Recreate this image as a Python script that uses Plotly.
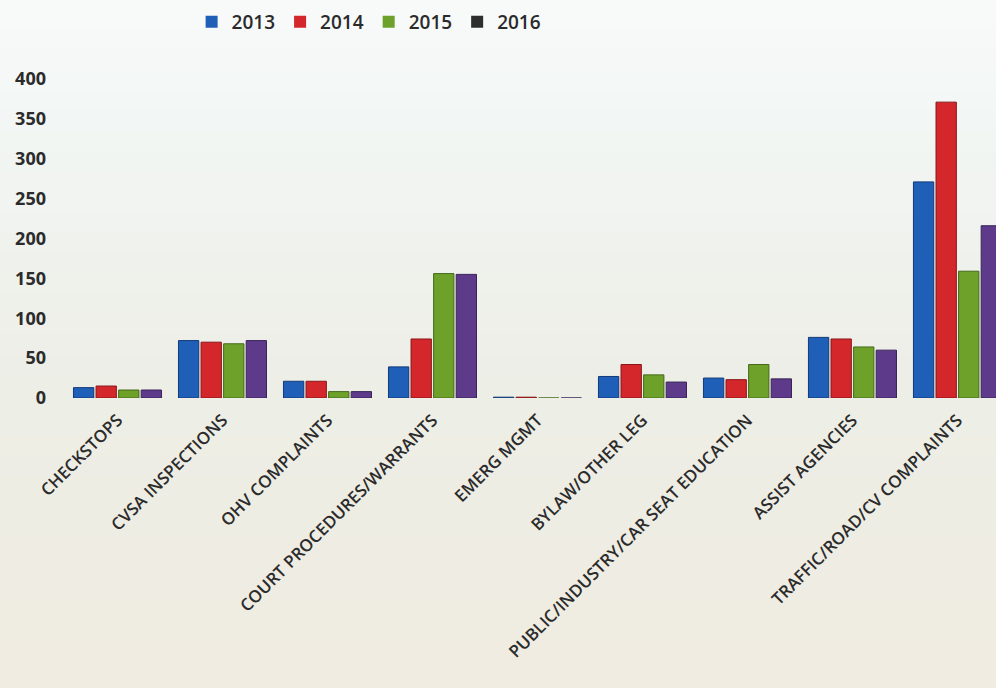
import plotly.graph_objects as go

categories = ["CHECKSTOPS", "CVSA INSPECTIONS", "OHV COMPLAINTS", "COURT PROCEDURES/WARRANTS",
              "EMERG MGMT", "BYLAW/OTHER LEG", "PUBLIC/INDUSTRY/CAR SEAT EDUCATION",
              "ASSIST AGENCIES", "TRAFFIC/ROAD/CV COMPLAINTS"]
years = ["2013", "2014", "2015", "2016"]
v2013 = [13, 72, 21, 39, 1, 27, 25, 76, 271]
v2014 = [15, 70, 21, 74, 1, 42, 23, 74, 371]
v2015 = [10, 68, 8, 156, 0, 29, 42, 64, 159]
v2016 = [10, 72, 8, 155, 0, 20, 24, 60, 216]
yticks = [0, 50, 100, 150, 200, 250, 300, 350, 400]

bar_colors = ["#1f5fb8", "#d4272c", "#6ea12a", "#5d3a8a"]
edge_colors = ["#123a78", "#8a1518", "#45691a", "#3a2358"]
legend_colors = ["#1f5fb8", "#d4272c", "#6ea12a", "#2e2e2e"]

fig = go.Figure()
for name, vals, c, e in zip(years, [v2013, v2014, v2015, v2016], bar_colors, edge_colors):
    fig.add_trace(go.Bar(x=categories, y=vals, name=name, showlegend=False,
                         marker=dict(color=c, line=dict(color=e, width=1))))
for name, c in zip(years, legend_colors):
    fig.add_trace(go.Scatter(x=[None], y=[None], mode="markers", name=name,
                             marker=dict(symbol="square", size=12, color=c)))

# background gradient (paper coords, top -> bottom)
stops = [(0.0, (253, 254, 254)), (0.3, (242, 246, 244)), (0.6, (237, 238, 230)), (1.0, (240, 236, 225))]
n = 40
shapes = []
for i in range(n):
    t = (i + 0.5) / n
    for (a, ca), (b, cb) in zip(stops[:-1], stops[1:]):
        if a <= t <= b:
            f = (t - a) / (b - a)
            col = tuple(round(ca[k] + (cb[k] - ca[k]) * f) for k in range(3))
            break
    y1 = 1.6 - i * (1.6 + 0.95) / n
    y0 = 1.6 - (i + 1) * (1.6 + 0.95) / n
    shapes.append(dict(type="rect", xref="paper", yref="paper", x0=-0.1, x1=1.1,
                       y0=y0, y1=y1 + 0.002, fillcolor="rgb(%d,%d,%d)" % col,
                       line=dict(width=0), layer="below"))

fig.update_layout(
    width=996, height=688,
    margin=dict(l=65, r=0, t=79, b=290),
    paper_bgcolor="#f1f2ea",
    plot_bgcolor="rgba(0,0,0,0)",
    barmode="group",
    bargap=0.14, bargroupgap=0.1,
    shapes=shapes,
    font=dict(family="Open Sans", color="#2b2b2b"),
    legend=dict(orientation="h", x=0.136, xanchor="left", y=1.179, yanchor="middle",
                font=dict(size=19, color="#2b2b2b", weight=600),
                itemwidth=30, bgcolor="rgba(0,0,0,0)", tracegroupgap=0),
    xaxis=dict(tickangle=-45, tickfont=dict(size=17, weight=600, color="#2b2b2b"),
               showgrid=False, showline=False, ticks="", range=[-0.5, 8.367],
               ticklabelstandoff=8),
    yaxis=dict(range=[0, 400], tickvals=yticks, tickfont=dict(size=18, weight=700, color="#2b2b2b"),
               showgrid=False, zeroline=False, showline=False, ticks="", ticklabelstandoff=18),
)
fig.write_html("out.html", config={"displayModeBar": False},
               post_script="document.body.style.margin='0';document.body.style.overflow='hidden';")
